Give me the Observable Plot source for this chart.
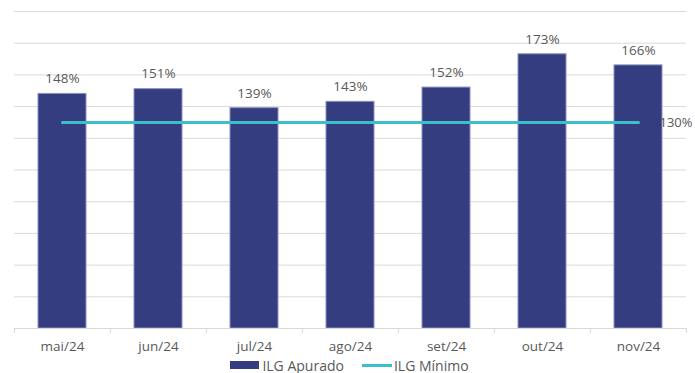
<!DOCTYPE html>
<html>
<head>
<meta charset="utf-8">
<script src="https://cdn.jsdelivr.net/npm/d3@7"></script>
<script src="https://cdn.jsdelivr.net/npm/@observablehq/plot@0.6"></script>
<style>
  html, body { margin: 0; padding: 0; background: #fff; }
  #chart { width: 695px; height: 355px; }
  .legend { display: flex; justify-content: center; align-items: center; height: 18px; margin-top: 1px; font-family: "Open Sans", sans-serif; font-size: 14px; color: #595959; margin-left: 4px; }
  .legend .item { display: flex; align-items: center; margin: 0 9px; }
  .legend .bar { width: 29px; height: 8px; background: #343d80; margin-right: 3px; }
  .legend .line { width: 30px; height: 3px; background: #3cbfcc; margin-right: 2px; }
</style>
</head>
<body>
<div id="chart"></div>
<div class="legend">
  <div class="item"><span class="bar"></span><span>ILG Apurado</span></div>
  <div class="item"><span class="line"></span><span>ILG Mínimo</span></div>
</div>
<script>
const months = ["mai/24", "jun/24", "jul/24", "ago/24", "set/24", "out/24", "nov/24"];
const apurado = [148, 151, 139, 143, 152, 173, 166];
const minimo = [130, 130, 130, 130, 130, 130, 130];
const yTicks = [0, 20, 40, 60, 80, 100, 120, 140, 160, 180, 200];

const data = months.map((m, i) => ({month: m, apurado: apurado[i], minimo: minimo[i]}));
const last = data[data.length - 1];
const halfStep = (695 - 14 - 9) / months.length / 2;

const chart = Plot.plot({
  width: 695,
  height: 355,
  marginTop: 11,
  marginBottom: 27,
  marginLeft: 14,
  marginRight: 9,
  style: {fontFamily: "'Open Sans', sans-serif", fontSize: "13.5px", color: "#595959", background: "#fff"},
  x: {domain: months, paddingInner: 0.5, paddingOuter: 0.25, label: null, axis: null},
  y: {domain: [0, 200], label: null, axis: null},
  marks: [
    Plot.gridY(yTicks, {stroke: "#d9d9d9", strokeOpacity: 1, strokeWidth: 1}),
    Plot.barY(data, {x: "month", y: "apurado", fill: "#343d80", stroke: "#8a90bd", strokeWidth: 1}),
    Plot.ruleY([0], {stroke: "#d9d9d9", strokeWidth: 1}),
    Plot.ruleX(months, {x: d => d, y1: 0, y2: 0, dx: -halfStep, insetBottom: -5, stroke: "#d9d9d9"}),
    Plot.ruleX([months[months.length - 1]], {x: d => d, y1: 0, y2: 0, dx: halfStep, insetBottom: -5, stroke: "#d9d9d9"}),
    Plot.axisX({tickSize: 0, tickPadding: 13, fill: "#595959", fontSize: 13.5, label: null}),
    Plot.lineY(data, {x: "month", y: "minimo", stroke: "#3cbfcc", strokeWidth: 3}),
    Plot.text(data, {x: "month", y: "apurado", text: d => d.apurado + "%", dy: -15, fill: "#595959", fontSize: 13.5}),
    Plot.text([last], {x: "month", y: "minimo", text: d => d.minimo + "%", textAnchor: "start", dx: 21, fill: "#595959", fontSize: 13})
  ]
});

document.getElementById("chart").appendChild(chart);
</script>
</body>
</html>
